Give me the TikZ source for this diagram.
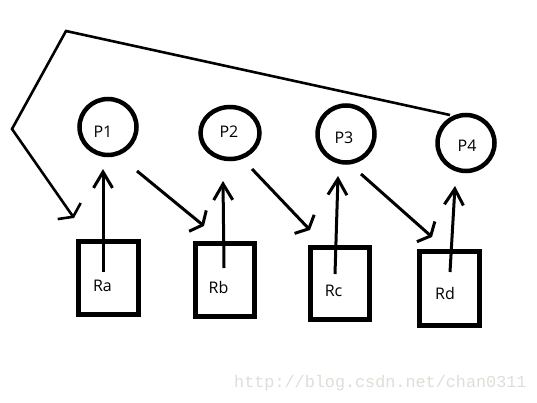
\documentclass[tikz,border=0pt]{standalone}
\usepackage{fontspec}
\setmainfont{Open Sans}
\newfontfamily\wmfont{Liberation Mono}
\usetikzlibrary{arrows.meta,shapes.geometric}
\definecolor{wmgray}{RGB}{222,222,216}
\begin{document}
\begin{tikzpicture}[x=1pt,y=-1pt,
  proc/.style={ellipse,draw,line width=4.5pt,inner sep=0pt},
  res/.style={rectangle,draw,line width=5pt,inner sep=0pt},
  lbl/.style={inner sep=0pt,font=\fontsize{16}{16}\selectfont},
  upar/.style={line width=3pt,-{Straight Barb[length=16pt,width=19pt,line width=3pt]}},
  diar/.style={line width=3pt,-{Straight Barb[length=6.5pt,width=27pt,line width=3pt]}},
  loopl/.style={line width=2.6pt,line join=miter}]
\useasboundingbox (0,0) rectangle (537,403);
% processes
\node[proc,minimum width=57pt,minimum height=56pt] (P1) at (108,127) {};
\node[proc,minimum width=59pt,minimum height=52pt] (P2) at (230,133) {};
\node[proc,minimum width=57pt,minimum height=57pt] (P3) at (346,134) {};
\node[proc,minimum width=57pt,minimum height=56pt] (P4) at (466,143) {};
\node[lbl] (P1t) at (103,132) {P1};
\node[lbl] (P2t) at (229,132) {P2};
\node[lbl] (P3t) at (344,138) {P3};
\node[lbl] (P4t) at (467,145.5) {P4};
% resources
\node[res,minimum width=60pt,minimum height=73pt] (Ra) at (108.5,278) {};
\node[res,minimum width=59pt,minimum height=73pt] (Rb) at (225,280) {};
\node[res,minimum width=59pt,minimum height=72pt] (Rc) at (340,283.5) {};
\node[res,minimum width=60pt,minimum height=74pt] (Rd) at (449.5,288.5) {};
\node[lbl] (Rat) at (102.5,285.5) {Ra};
\node[lbl] (Rbt) at (218.5,287.5) {Rb};
\node[lbl] (Rct) at (333.5,290.5) {Rc};
\node[lbl] (Rdt) at (445,293.5) {Rd};
% connector end points
\coordinate (ra0) at (103,272);  \coordinate (ra1) at (103,169);
\coordinate (rb0) at (224,268);  \coordinate (rb1) at (223,181);
\coordinate (rc0) at (335,274);  \coordinate (rc1) at (338,176);
\coordinate (rd0) at (450,272);  \coordinate (rd1) at (455,186);
\coordinate (p1o) at (137,171);  \coordinate (rbi) at (204,226);
\coordinate (p2o) at (252,169);  \coordinate (rci) at (310,230);
\coordinate (p3o) at (361,174);  \coordinate (rdi) at (432,237);
\coordinate (lp4) at (450,115);
\coordinate (ltop) at (66,31);
\coordinate (lleft) at (12,129);
\coordinate (lend) at (74,218);
% requests / assignments
\draw[upar] (ra0) -- (ra1);
\draw[upar] (rb0) -- (rb1);
\draw[upar] (rc0) -- (rc1);
\draw[upar] (rd0) -- (rd1);
\draw[diar] (p1o) -- (rbi);
\draw[diar] (p2o) -- (rci);
\draw[diar] (p3o) -- (rdi);
\draw[loopl,-{Straight Barb[length=7pt,width=28pt,line width=2.6pt]}] (lp4) -- (ltop) -- (lleft) -- (lend);
% watermark
\node[inner sep=0pt,anchor=base west,text=wmgray,font=\wmfont\fontsize{16.8}{16.8}\selectfont] (wm) at (234,387) {http://blog.csdn.net/chan0311};
\end{tikzpicture}
\end{document}
